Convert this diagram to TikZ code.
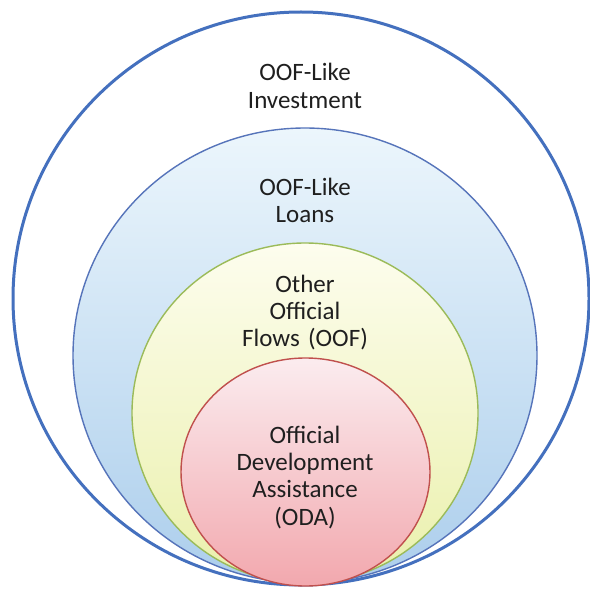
\documentclass[tikz,border=0pt]{standalone}
\usepackage{fontspec}
\setmainfont{Carlito}
\usepackage{tikz}

\definecolor{ringblue}{RGB}{68,112,190}
\definecolor{loanline}{RGB}{86,116,186}
\definecolor{loantop}{RGB}{236,246,252}
\definecolor{loanbot}{RGB}{172,206,236}
\definecolor{oofline}{RGB}{155,187,89}
\definecolor{ooftop}{RGB}{253,253,238}
\definecolor{oofbot}{RGB}{234,240,172}
\definecolor{odaline}{RGB}{192,80,77}
\definecolor{odatop}{RGB}{251,236,239}
\definecolor{odabot}{RGB}{242,168,174}

\begin{document}
\begin{tikzpicture}[x=1pt,y=-1pt,
        lbl/.style={text=black!88, font=\fontsize{25}{27.4}\selectfont, align=center, text width=200pt, inner sep=0pt, anchor=base}]
        \useasboundingbox[fill=white] (0,0) rectangle (589,591);
        % outer ring
        \draw[ringblue, line width=3pt, fill=white] (301,298.5) ellipse [x radius=288, y radius=286.5];
        % nested flows
        \shade[top color=loantop, bottom color=loanbot, draw=loanline, line width=1.4pt] (305,355.5) ellipse [x radius=232, y radius=227.5];
        \shade[top color=ooftop, bottom color=oofbot, draw=oofline, line width=1.4pt] (305,413) ellipse [x radius=173, y radius=170];
        \shade[top color=odatop, bottom color=odabot, draw=odaline, line width=1.4pt] (305.5,472) ellipse [x radius=124.5, y radius=114];
        \node[lbl] (invest) at (305,81) {OOF-Like\\Investment};
        \node[lbl] (loans) at (305,195) {OOF-Like\\Loans};
        \node[lbl] (oof) at (305,292) {Other\\Official\\Flows (OOF)};
        \node[lbl] (oda) at (305,443) {Official\\Development\\Assistance\\(ODA)};
\end{tikzpicture}
\end{document}
